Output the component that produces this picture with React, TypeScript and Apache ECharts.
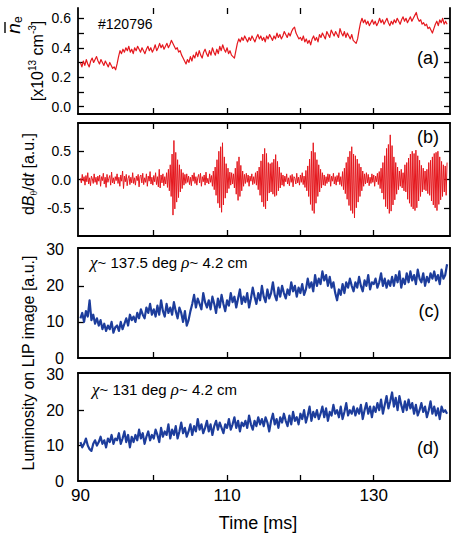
import React, { useEffect, useRef } from "react";
import * as echarts from "echarts";

// Time base shared by every trace (ms)
const T0 = 90;
const DENSITY_DT = 0.2;
const PROBE_DT = 0.125;
const LIP_DT = 0.25;

// (a) line-averaged density, x10^13 cm^-3, every 0.2 ms from 90 ms
const density = [
  0.30, 0.27, 0.31, 0.28, 0.32, 0.29, 0.27, 0.31, 0.33, 0.30, 0.32, 0.34, 0.31, 0.29, 0.32, 0.30, 0.28, 0.31, 0.29, 0.27, 0.30, 0.28, 0.26, 0.27, 0.25,
  0.29, 0.34, 0.38, 0.36, 0.39, 0.37, 0.40, 0.38, 0.41, 0.37, 0.39, 0.36, 0.40, 0.38, 0.41, 0.39, 0.37, 0.40, 0.38, 0.36, 0.39, 0.41, 0.38, 0.40, 0.37,
  0.39, 0.42, 0.38, 0.40, 0.43, 0.40, 0.42, 0.39, 0.41, 0.43, 0.40, 0.42, 0.45, 0.43, 0.41, 0.39, 0.40, 0.37, 0.38, 0.35, 0.33, 0.31, 0.29, 0.32, 0.30,
  0.34, 0.31, 0.35, 0.33, 0.37, 0.34, 0.38, 0.35, 0.33, 0.37, 0.39, 0.36, 0.34, 0.38, 0.35, 0.40, 0.37, 0.35, 0.39, 0.36, 0.41, 0.38, 0.42, 0.39, 0.37,
  0.40, 0.36, 0.38, 0.35, 0.34, 0.33, 0.38, 0.43, 0.46, 0.44, 0.47, 0.45, 0.48, 0.46, 0.44, 0.47, 0.45, 0.48, 0.46, 0.44, 0.47, 0.49, 0.46, 0.48, 0.45,
  0.47, 0.44, 0.48, 0.46, 0.49, 0.47, 0.45, 0.48, 0.46, 0.50, 0.47, 0.49, 0.46, 0.48, 0.51, 0.49, 0.47, 0.50, 0.48, 0.51, 0.53, 0.54, 0.50, 0.48, 0.46,
  0.47, 0.45, 0.48, 0.44, 0.46, 0.43, 0.45, 0.42, 0.46, 0.48, 0.45, 0.47, 0.44, 0.49, 0.47, 0.50, 0.48, 0.46, 0.51, 0.49, 0.47, 0.52, 0.50, 0.48, 0.51,
  0.49, 0.47, 0.53, 0.50, 0.48, 0.51, 0.47, 0.50, 0.48, 0.46, 0.49, 0.45, 0.44, 0.43, 0.46, 0.52, 0.57, 0.60, 0.57, 0.59, 0.56, 0.58, 0.55, 0.57, 0.59,
  0.56, 0.58, 0.55, 0.57, 0.60, 0.57, 0.59, 0.56, 0.58, 0.60, 0.57, 0.55, 0.58, 0.56, 0.59, 0.57, 0.60, 0.58, 0.56, 0.59, 0.61, 0.58, 0.60, 0.57, 0.59,
  0.61, 0.58, 0.60, 0.62, 0.64, 0.60, 0.58, 0.59, 0.56, 0.57, 0.55, 0.56, 0.53, 0.54, 0.52, 0.50, 0.53, 0.56, 0.58, 0.55, 0.59, 0.57, 0.60, 0.56, 0.58,
  0.56,
];

// (b) magnetic probe signal dB/dt, a.u., every 0.125 ms from 90 ms
const dBdt = [
  0.02, -0.06, 0.09, -0.03, 0.05, -0.10, 0.07, -0.04, 0.12, -0.08, 0.03, -0.11, 0.06, 0.01, -0.07, 0.10, -0.05, 0.04, -0.09, 0.06,
  -0.03, 0.08, -0.12, 0.05, -0.02, 0.11, -0.08, 0.04, -0.14, 0.09, -0.05, 0.02, 0.07, -0.10, 0.13, -0.06, 0.03, -0.08, 0.05, -0.02,
  0.10, -0.07, 0.04, -0.12, 0.08, -0.03, 0.15, -0.16, 0.06, -0.04, 0.09, -0.11, 0.02, 0.07, -0.09, 0.04, -0.06, 0.12, -0.07, 0.03,
  -0.10, 0.06, -0.02, 0.09, -0.13, 0.05, 0.08, -0.06, 0.11, -0.09, 0.03, -0.05, 0.10, -0.12, 0.06, -0.03, 0.14, -0.08, 0.04, -0.10,
  0.07, -0.04, 0.12, -0.09, 0.05, -0.13, 0.18, -0.15, 0.08, -0.06, 0.10, -0.11, 0.05, -0.08, 0.12, -0.14, 0.18, -0.20, 0.26, -0.30,
  0.45, -0.63, 0.69, -0.52, 0.48, -0.40, 0.35, -0.32, 0.26, -0.22, 0.18, -0.16, 0.12, -0.10, 0.09, -0.07, 0.10, -0.05, 0.06, -0.09,
  0.04, -0.11, 0.08, -0.03, 0.12, -0.07, 0.05, -0.10, 0.03, 0.09, -0.06, 0.11, -0.12, 0.05, -0.04, 0.08, -0.10, 0.13, -0.06, 0.02,
  -0.08, 0.10, -0.05, 0.07, -0.12, 0.15, -0.18, 0.22, -0.28, 0.35, -0.42, 0.50, -0.50, 0.58, -0.58, 0.65, -0.45, 0.40, -0.33, 0.28,
  -0.24, 0.20, -0.16, 0.13, -0.10, 0.12, -0.08, 0.10, -0.15, 0.20, -0.26, 0.32, -0.37, 0.40, -0.30, 0.25, -0.20, 0.15, -0.12, 0.09,
  -0.07, 0.11, -0.05, 0.08, -0.12, 0.06, -0.03, 0.10, -0.09, 0.05, -0.07, 0.12, -0.10, 0.15, -0.18, 0.22, -0.28, 0.33, -0.40, 0.45,
  -0.48, 0.55, -0.52, 0.46, -0.38, 0.30, -0.24, 0.28, -0.22, 0.30, -0.26, 0.36, -0.30, 0.44, -0.28, 0.32, -0.20, 0.22, -0.15, 0.12,
  -0.10, 0.08, -0.12, 0.06, -0.04, 0.10, -0.08, 0.03, -0.11, 0.07, -0.05, 0.09, -0.13, 0.05, 0.02, -0.08, 0.11, -0.06, 0.04, -0.10,
  0.08, -0.05, 0.12, -0.09, 0.06, -0.14, 0.16, -0.20, 0.24, -0.30, 0.36, -0.44, 0.50, -0.55, 0.65, -0.60, 0.48, -0.42, 0.35, -0.30,
  0.26, -0.22, 0.18, -0.15, 0.12, -0.10, 0.08, -0.11, 0.05, -0.07, 0.10, -0.04, 0.09, -0.12, 0.06, -0.03, 0.11, -0.08, 0.05, -0.10,
  0.07, -0.04, 0.12, -0.09, 0.05, -0.12, 0.14, -0.18, 0.20, -0.25, 0.30, -0.35, 0.40, -0.46, 0.50, -0.55, 0.58, -0.60, 0.45, -0.68,
  0.42, -0.50, 0.36, -0.40, 0.28, -0.30, 0.22, -0.20, 0.15, -0.12, 0.10, -0.08, 0.12, -0.06, 0.09, -0.11, 0.04, -0.07, 0.10, -0.05,
  0.08, -0.12, 0.06, -0.04, 0.11, -0.09, 0.14, -0.16, 0.20, -0.24, 0.30, -0.35, 0.42, -0.48, 0.55, -0.52, 0.62, -0.60, 0.79, -0.56,
  0.60, -0.45, 0.40, -0.36, 0.30, -0.26, 0.22, -0.18, 0.15, -0.12, 0.18, -0.15, 0.12, -0.20, 0.26, -0.22, 0.30, -0.35, 0.38, -0.42,
  0.45, -0.48, 0.50, -0.52, 0.46, -0.55, 0.52, -0.50, 0.42, -0.38, 0.34, -0.30, 0.25, -0.22, 0.20, -0.18, 0.15, -0.20, 0.18, -0.25,
  0.30, -0.28, 0.34, -0.38, 0.40, -0.45, 0.46, -0.50, 0.48, -0.55, 0.50, -0.44, 0.40, -0.36, 0.32, -0.30, 0.26, -0.22, 0.24, -0.28,
  0.30,
];

// (c) LIP image luminosity at chi ~ 137.5 deg, a.u., every 0.25 ms
const luminosityC = [
  11, 12.5, 10, 13, 11.5, 16, 10.5, 12, 9.5, 11,
  9, 10.5, 8, 9.5, 7.5, 9, 8, 10, 7, 8.5,
  9, 7.5, 10, 8, 9.5, 11, 9, 12, 10.5, 11.5,
  10, 12.5, 11, 13.5, 12, 11, 14, 12.5, 15, 12,
  13.5, 11.5, 14.5, 12, 16, 13, 11.5, 15, 12.5, 14,
  12, 15.5, 13, 11, 14, 12.5, 10, 13, 9, 10.5,
  13, 15, 17.5, 14, 16.5, 15, 13.5, 18, 15.5, 14,
  16, 13.5, 17, 15, 12.5, 16.5, 14, 17.5, 15, 13,
  16, 14.5, 18, 15.5, 17, 14, 16.5, 19, 15, 17,
  15.5, 18, 14, 16.5, 19.5, 17, 15, 18, 16, 20,
  17, 15.5, 19, 16.5, 18, 21, 17.5, 16, 19.5, 17,
  20, 18, 16.5, 19, 17.5, 21, 18.5, 20, 17, 19.5,
  18, 20.5, 17.5, 19, 22, 19.5, 21, 18.5, 23, 20,
  22, 20.5, 24, 21.5, 23, 20, 22.5, 19.5, 21, 18,
  16, 19, 17.5, 20.5, 18, 21, 19.5, 22, 20, 18.5,
  21, 19.5, 22.5, 20, 18.5, 21.5, 20, 23, 19, 21,
  20.5, 22, 19.5, 21, 23.5, 20, 22, 19.5, 21.5, 20,
  22.5, 20, 23, 21, 24, 19.5, 22, 20.5, 23.5, 21,
  24, 21.5, 23, 20.5, 24.5, 22, 21, 23.5, 20, 22.5,
  21, 23.5, 22, 24, 21.5, 23, 20.5, 24.5, 22, 23,
  26,
];

// (d) LIP image luminosity at chi ~ 131 deg, a.u., every 0.25 ms
const luminosityD = [
  11, 9.5, 10.5, 12, 10, 9, 8.5, 10.5, 11.5, 10,
  11, 12.5, 10.5, 11.5, 9.5, 12, 11, 13, 10.5, 12,
  11.5, 13.5, 10.5, 12, 14, 11, 13, 9.5, 12.5, 11,
  13, 11.5, 14.5, 12, 13.5, 10.5, 12.5, 14, 11.5, 13,
  12, 14.5, 13, 11, 15, 12.5, 14, 13, 16, 12,
  14.5, 13, 15.5, 12, 14, 16.5, 13.5, 15, 12.5, 14,
  16, 13, 15.5, 14, 17.5, 14.5, 16, 13.5, 15, 17,
  14, 16, 13, 15.5, 17, 14.5, 16.5, 15, 13.5, 16,
  15, 17.5, 14.5, 16, 18, 15, 17, 14, 16.5, 15.5,
  17, 15, 18.5, 16, 14.5, 17, 15.5, 18, 16, 17.5,
  15.5, 18, 16.5, 14, 17, 19, 16, 17.5, 15, 18,
  16.5, 19, 17, 15.5, 18.5, 16, 19.5, 17, 18, 16,
  19, 17.5, 20, 16.5, 18.5, 21, 17, 19.5, 18, 20,
  17.5, 19, 21, 18, 20.5, 17, 19.5, 18.5, 21.5, 19,
  20, 18, 21, 17.5, 19.5, 22, 18.5, 20, 19, 21,
  18.5, 20.5, 19, 21.5, 17.5, 20, 22, 19, 21, 18,
  21, 19.5, 22, 20, 23, 19, 21.5, 24, 20.5, 22.5,
  25, 21, 23.5, 20, 24, 21.5, 19.5, 22.5, 20, 23,
  20.5, 22, 19, 21.5, 18.5, 20, 22, 19.5, 21, 18,
  20, 22.5, 19, 21, 18.5, 20.5, 17.5, 21, 19.5, 20,
  19,
];

// Tick and label positions
const timeTicks = [100, 110, 120, 130];
const timeLabels = [90, 110, 130];
const densityTicks = [0, 0.1, 0.2, 0.3, 0.4, 0.5, 0.6];
const densityLabels = [0, 0.2, 0.4, 0.6];
const dBdtTicks = [-0.5, 0, 0.5];
const dBdtLabels = [-0.5, 0, 0.5];
const lumTicks = [10, 20];
const lumLabels = [0, 10, 20, 30];

const FONT = '"Liberation Sans", Arial, Helvetica, sans-serif';
const SERIF = '"Liberation Serif", "DejaVu Serif", serif';
const RED = "#e5181e";
const BLUE = "#1d3d9c";
const X_MIN = 89.67;
const X_MAX = 140.4;
const PLOT_LEFT = 78;
const PLOT_WIDTH = 372;

const panels = [
  { top: 8, height: 106, min: -0.05, max: 0.67 },
  { top: 123, height: 113, min: -1, max: 1 },
  { top: 248, height: 110, min: 0, max: 30.5 },
  { top: 373, height: 108, min: 0, max: 30.5 },
];

const toPoints = (vals: number[], dt: number) =>
  vals.map((v, i) => [Math.round((T0 + i * dt) * 1000) / 1000, v]);

const axisLineStyle = { color: "#000", width: 1.8 };
const tickStyle = { color: "#000", width: 1.3 };

function xAxisFor(
  grid: number,
  position: "top" | "bottom",
  showLine: boolean,
  ticks: number[] | null,
  labels: number[] | null
) {
  return {
    type: "value",
    gridIndex: grid,
    position,
    min: X_MIN,
    max: X_MAX,
    axisLine: { show: showLine, onZero: false, lineStyle: axisLineStyle },
    axisTick: ticks
      ? { show: true, inside: true, length: 6, customValues: ticks, lineStyle: tickStyle }
      : { show: false },
    axisLabel: labels
      ? {
          show: true,
          customValues: labels,
          margin: 6,
          fontSize: 17,
          color: "#000",
          fontFamily: FONT,
          formatter: (v: number) => String(Math.round(v)),
        }
      : { show: false },
    splitLine: { show: false },
  };
}

function yAxisFor(
  grid: number,
  position: "left" | "right",
  ticks: number[] | null,
  labels: number[] | null,
  labelSize: number,
  margin: number,
  digits: number
) {
  const p = panels[grid];
  return {
    type: "value",
    gridIndex: grid,
    position,
    min: p.min,
    max: p.max,
    axisLine: { show: true, onZero: false, lineStyle: axisLineStyle },
    axisTick: ticks
      ? { show: true, inside: true, length: 6, customValues: ticks, lineStyle: tickStyle }
      : { show: false },
    axisLabel: labels
      ? {
          show: true,
          customValues: labels,
          margin,
          fontSize: labelSize,
          color: "#000",
          fontFamily: FONT,
          formatter: (v: number) => v.toFixed(digits),
        }
      : { show: false },
    splitLine: { show: false },
  };
}

function rotatedLabel(x: number, y: number, text: string, rich: any) {
  return {
    type: "text",
    x,
    y,
    rotation: Math.PI / 2,
    style: {
      text,
      rich,
      align: "center",
      verticalAlign: "middle",
      fill: "#000",
    },
  };
}

export default function App() {
  const ref = useRef<HTMLDivElement>(null);

  useEffect(() => {
    if (!ref.current) return;
    const chart = echarts.init(ref.current, undefined, { renderer: "svg" });

    const grids = panels.map((p) => ({
      left: PLOT_LEFT,
      top: p.top,
      width: PLOT_WIDTH,
      height: p.height,
      containLabel: false,
      outerBoundsMode: "none",
    }));

    const xAxes = [
      xAxisFor(0, "bottom", true, timeTicks, null),
      xAxisFor(1, "bottom", true, timeTicks, null),
      xAxisFor(2, "bottom", true, timeTicks, null),
      xAxisFor(3, "bottom", true, timeTicks, timeLabels),
      xAxisFor(0, "top", false, timeTicks, null),
      xAxisFor(1, "top", true, timeTicks, null),
      xAxisFor(2, "top", true, null, null),
      xAxisFor(3, "top", true, null, null),
    ];

    const yAxes = [
      yAxisFor(0, "left", densityTicks, densityLabels, 14, 7, 1),
      yAxisFor(1, "left", dBdtTicks, dBdtLabels, 14, 7, 1),
      yAxisFor(2, "left", lumTicks, lumLabels, 16, 14, 0),
      yAxisFor(3, "left", lumTicks, lumLabels, 16, 14, 0),
      yAxisFor(0, "right", densityTicks, null, 14, 7, 1),
      yAxisFor(1, "right", dBdtTicks, null, 14, 7, 1),
      yAxisFor(2, "right", null, null, 14, 7, 0),
      yAxisFor(3, "right", null, null, 14, 7, 0),
    ];

    const line = (data: number[][], idx: number, color: string, width: number) => ({
      type: "line",
      xAxisIndex: idx,
      yAxisIndex: idx,
      data,
      showSymbol: false,
      symbol: "none",
      silent: true,
      lineStyle: { color, width, join: "round" },
      itemStyle: { color },
      z: 1,
    });

    const plain = { fontFamily: FONT, fontSize: 16, fill: "#000" };
    const greek = { fontFamily: SERIF, fontStyle: "italic", fontSize: 17, fill: "#000" };
    const panelTag = (x: number, y: number, t: string) => ({
      type: "text",
      x,
      y,
      style: { text: t, fontFamily: FONT, fontSize: 18, fill: "#000", align: "center", verticalAlign: "middle" },
    });

    chart.setOption({
      animation: false,
      backgroundColor: "#fff",
      grid: grids,
      xAxis: xAxes,
      yAxis: yAxes,
      series: [
        line(toPoints(density, DENSITY_DT), 0, RED, 1.2),
        line(toPoints(dBdt, PROBE_DT), 1, RED, 1.0),
        line(toPoints(luminosityC, LIP_DT), 2, BLUE, 2.2),
        line(toPoints(luminosityD, LIP_DT), 3, BLUE, 2.2),
      ],
      graphic: {
        elements: [
          {
            type: "text",
            x: 98,
            y: 24,
            style: { text: "#120796", fontFamily: FONT, fontSize: 14, fill: "#000", verticalAlign: "middle" },
          },
          {
            type: "text",
            x: 90,
            y: 262,
            style: {
              text: "{g|χ}{t|~ 137.5 deg }{g|ρ}{t|~ 4.2 cm}",
              rich: { g: greek, t: { fontFamily: FONT, fontSize: 15, fill: "#000" } },
              verticalAlign: "middle",
            },
          },
          {
            type: "text",
            x: 92,
            y: 389,
            style: {
              text: "{g|χ}{t|~ 131 deg }{g|ρ}{t|~ 4.2 cm}",
              rich: { g: greek, t: { fontFamily: FONT, fontSize: 15, fill: "#000" } },
              verticalAlign: "middle",
            },
          },
          panelTag(428, 58, "(a)"),
          panelTag(428, 137, "(b)"),
          panelTag(429, 311, "(c)"),
          panelTag(428, 448, "(d)"),
          // density symbol with overbar, drawn rotated
          {
            type: "group",
            x: 13,
            y: 25,
            rotation: Math.PI / 2,
            children: [
              {
                type: "text",
                x: 0,
                y: 0,
                style: {
                  text: "{n|n}{e|e}",
                  rich: {
                    n: { fontFamily: FONT, fontStyle: "italic", fontSize: 19, lineHeight: 22, fill: "#000" },
                    e: { fontFamily: FONT, fontSize: 12, lineHeight: 12, verticalAlign: "bottom", fill: "#000" },
                  },
                  align: "center",
                  verticalAlign: "middle",
                },
              },
              {
                type: "line",
                shape: { x1: -8, y1: -8, x2: 3, y2: -8 },
                style: { stroke: "#000", lineWidth: 1.4 },
              },
            ],
          },
          rotatedLabel(37, 61, "{t|[x10}{s|13}{t| cm}{s|-3}{t|]}", {
            t: { ...plain, fontSize: 16, lineHeight: 20 },
            s: { fontFamily: FONT, fontSize: 10, lineHeight: 10, verticalAlign: "top", fill: "#000" },
          }),
          rotatedLabel(28, 174, "{t|d}{i|B}{b|θ}{t|/d}{i|t}{t| [a.u.]}", {
            t: { ...plain, lineHeight: 20 },
            i: { ...plain, fontStyle: "italic", lineHeight: 20 },
            b: { fontFamily: SERIF, fontSize: 10, lineHeight: 10, verticalAlign: "bottom", fill: "#000" },
          }),
          rotatedLabel(28, 363, "{t|Luminosity on LIP image [a.u.]}", { t: plain }),
          {
            type: "text",
            x: 258,
            y: 523,
            style: { text: "Time [ms]", fontFamily: FONT, fontSize: 18, fill: "#000", align: "center", verticalAlign: "middle" },
          },
        ],
      },
    });

    return () => chart.dispose();
  }, []);

  return (
    <div
      ref={ref}
      style={{ position: "fixed", left: 0, top: 0, width: 458, height: 536, background: "#fff" }}
    />
  );
}
